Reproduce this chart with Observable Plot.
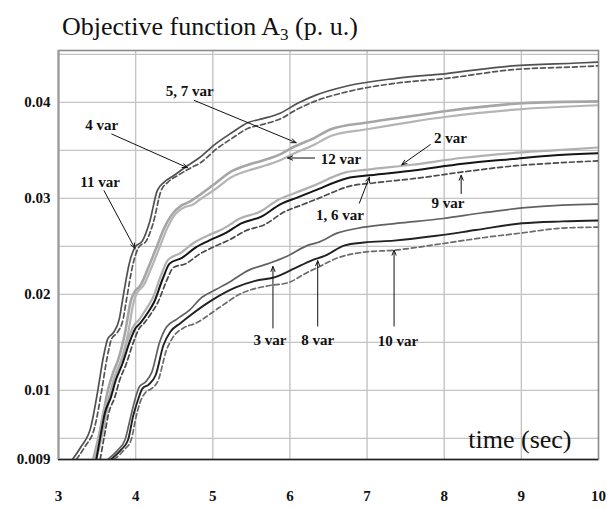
<!DOCTYPE html>
<html>
<head>
<meta charset="utf-8">
<script src="https://cdn.jsdelivr.net/npm/d3@7"></script>
<script src="https://cdn.jsdelivr.net/npm/@observablehq/plot@0.6"></script>
<style>
  html, body { margin: 0; padding: 0; background: #fff; }
  #wrap { width: 607px; height: 509px; position: relative; overflow: hidden; }
  #title { height: 26px; padding-top: 14px; padding-left: 62px; font-family: "Liberation Serif", "Times New Roman", serif; font-size: 26px; line-height: 26px; color: #111; white-space: nowrap; }
  #title .sub { font-size: 17px; position: relative; top: 5px; }
  svg { display: block; }
</style>
</head>
<body>
<div id="wrap">
  <div id="title">Objective function A<span class="sub">3</span> (p. u.)</div>
  <div id="chart"></div>
</div>
<script>
// ---- data ----
const t11 = [3.18,3.29,3.42,3.51,3.58,3.64,3.71,3.79,3.83,3.92,3.99,4.09,4.18,4.28,4.37,4.50,4.67,4.82,5.04,5.24,5.46,5.65,5.88,6.10,6.32,6.74,7.38,8.03,8.88,9.73,10];
const v11 = [0.0028,0.0041,0.0062,0.0100,0.0134,0.0154,0.0160,0.0175,0.0194,0.0233,0.0249,0.0256,0.0275,0.0308,0.0317,0.0324,0.0334,0.0342,0.0357,0.0368,0.0379,0.0383,0.0389,0.0399,0.0407,0.0417,0.0425,0.0430,0.0438,0.0441,0.0442];

const t4 = [3.23,3.34,3.47,3.56,3.63,3.69,3.76,3.84,3.88,3.97,4.04,4.14,4.23,4.33,4.42,4.55,4.72,4.84,5.04,5.24,5.46,5.65,5.88,6.10,6.32,6.74,7.38,8.03,8.88,9.73,10];
const v4 = [0.0028,0.0041,0.0062,0.0100,0.0134,0.0154,0.0160,0.0175,0.0194,0.0233,0.0249,0.0256,0.0275,0.0308,0.0317,0.0324,0.0332,0.0337,0.0351,0.0362,0.0373,0.0377,0.0383,0.0393,0.0401,0.0411,0.0420,0.0425,0.0434,0.0437,0.0438];

const t57 = [3.45,3.55,3.64,3.71,3.77,3.86,3.94,3.99,4.06,4.15,4.28,4.37,4.46,4.60,4.69,4.82,5.04,5.24,5.46,5.63,5.85,6.06,6.32,6.53,7.00,7.60,8.03,9.01,10];
const v57 = [0.0028,0.0062,0.0100,0.0119,0.0131,0.0159,0.0194,0.0203,0.0209,0.0225,0.0251,0.0269,0.0282,0.0293,0.0296,0.0303,0.0316,0.0328,0.0335,0.0339,0.0345,0.0354,0.0363,0.0372,0.0379,0.0386,0.0391,0.0399,0.0401];

const t12 = [3.49,3.59,3.68,3.75,3.81,3.90,3.98,4.03,4.10,4.19,4.32,4.41,4.50,4.64,4.73,4.82,5.04,5.24,5.46,5.63,5.85,6.06,6.32,6.53,7.00,7.60,8.03,9.01,10];
const v12 = [0.0028,0.0062,0.0100,0.0119,0.0131,0.0159,0.0194,0.0203,0.0209,0.0225,0.0251,0.0269,0.0282,0.0291,0.0293,0.0298,0.0310,0.0322,0.0329,0.0333,0.0339,0.0347,0.0356,0.0365,0.0372,0.0380,0.0385,0.0393,0.0397];

const t2 = [3.47,3.53,3.58,3.66,3.72,3.81,3.90,3.98,4.04,4.13,4.22,4.33,4.42,4.58,4.76,4.93,5.15,5.35,5.61,5.86,6.08,6.30,6.72,7.01,7.58,8.22,8.86,9.42,10];
const v2 = [0.0028,0.0055,0.0077,0.0094,0.0112,0.0130,0.0153,0.0168,0.0173,0.0184,0.0196,0.0220,0.0236,0.0243,0.0254,0.0261,0.0269,0.0279,0.0286,0.0299,0.0306,0.0313,0.0327,0.0330,0.0335,0.0342,0.0347,0.0350,0.0353];

const t16 = [3.49,3.55,3.60,3.68,3.74,3.83,3.92,4.00,4.06,4.15,4.24,4.35,4.44,4.60,4.78,4.95,5.17,5.37,5.63,5.88,6.10,6.32,6.74,7.03,7.60,8.24,8.88,9.44,10];
const v16 = [0.0028,0.0055,0.0076,0.0093,0.0110,0.0128,0.0150,0.0165,0.0170,0.0180,0.0192,0.0216,0.0232,0.0238,0.0249,0.0256,0.0264,0.0274,0.0281,0.0294,0.0301,0.0308,0.0321,0.0324,0.0329,0.0336,0.0341,0.0345,0.0347];

const t9 = [3.54,3.60,3.65,3.73,3.79,3.88,3.97,4.05,4.11,4.20,4.29,4.40,4.49,4.65,4.83,5.00,5.22,5.42,5.68,5.93,6.15,6.37,6.79,7.08,7.65,8.29,8.93,9.49,10];
const v9 = [0.0028,0.0055,0.0076,0.0093,0.0110,0.0128,0.0150,0.0165,0.0170,0.0180,0.0192,0.0214,0.0228,0.0232,0.0242,0.0249,0.0257,0.0266,0.0273,0.0286,0.0293,0.0300,0.0313,0.0316,0.0321,0.0328,0.0334,0.0337,0.0339];

const t3 = [3.64,3.77,3.86,3.94,3.99,4.05,4.13,4.21,4.31,4.40,4.53,4.69,4.86,5.04,5.24,5.46,5.72,5.97,6.23,6.36,6.62,6.96,7.38,7.99,8.50,9.01,9.53,10];
const v3 = [0.0028,0.0038,0.0048,0.0074,0.0090,0.0104,0.0109,0.0119,0.0150,0.0166,0.0174,0.0183,0.0197,0.0205,0.0214,0.0225,0.0232,0.0240,0.0251,0.0254,0.0264,0.0270,0.0274,0.0279,0.0285,0.0290,0.0293,0.0294];

const t8 = [3.68,3.81,3.90,3.97,4.03,4.09,4.17,4.26,4.36,4.45,4.58,4.69,4.99,5.29,5.55,5.81,6.06,6.27,6.45,6.71,6.96,7.35,7.90,8.41,9.01,9.53,10];
const v8 = [0.0028,0.0038,0.0048,0.0074,0.0090,0.0102,0.0106,0.0116,0.0147,0.0161,0.0170,0.0177,0.0194,0.0207,0.0214,0.0218,0.0227,0.0235,0.0240,0.0251,0.0254,0.0256,0.0261,0.0267,0.0274,0.0276,0.0277];

const t10 = [3.72,3.85,3.94,4.01,4.06,4.13,4.21,4.29,4.40,4.49,4.62,4.78,5.08,5.37,5.72,5.97,6.23,6.36,6.62,6.96,7.35,7.99,8.50,9.01,9.53,10];
const v10 = [0.0028,0.0038,0.0048,0.0074,0.0088,0.0098,0.0102,0.0110,0.0142,0.0156,0.0165,0.0170,0.0186,0.0201,0.0209,0.0212,0.0223,0.0228,0.0238,0.0244,0.0246,0.0253,0.0259,0.0264,0.0269,0.0270];

// axis ticks / labels
const xTicks = [3,4,5,6,7,8,9,10];
const yTickValues = [0.0028,0.01,0.02,0.03,0.04];
const yTickLabels = ["0.009","0.01","0.02","0.03","0.04"];
const yGrid = [0.005,0.01,0.015,0.02,0.025,0.03,0.035,0.04,0.045];
const xGrid = [4,5,6,7,8,9];

// annotations
const labelText = ["5, 7 var","4 var","11 var","12 var","2 var","1, 6 var","9 var","3 var","8 var","10 var"];
const labelT = [4.70,3.56,3.54,6.66,8.08,6.65,8.05,5.74,6.36,7.40];
const labelV = [0.0412,0.0376,0.0317,0.0341,0.0363,0.0282,0.0295,0.0152,0.0152,0.0151];
const arrowT1 = [4.76,3.69,3.59,6.32,7.82,6.90,8.22,5.78,6.36,7.35];
const arrowV1 = [0.0402,0.0367,0.0308,0.0342,0.0356,0.0295,0.0305,0.0165,0.0167,0.0167];
const arrowT2 = [6.08,4.67,3.99,5.97,7.45,7.03,8.22,5.78,6.36,7.35];
const arrowV2 = [0.0358,0.0332,0.0248,0.0342,0.0335,0.0322,0.0324,0.0229,0.0235,0.0246];

// ---- build tables ----
const seriesList = [
  {key: "5, 7 var", t: t57, v: v57},
  {key: "12 var", t: t12, v: v12},
  {key: "2 var", t: t2, v: v2},
  {key: "11 var", t: t11, v: v11},
  {key: "4 var", t: t4, v: v4},
  {key: "1, 6 var", t: t16, v: v16},
  {key: "9 var", t: t9, v: v9},
  {key: "3 var", t: t3, v: v3},
  {key: "8 var", t: t8, v: v8},
  {key: "10 var", t: t10, v: v10}
];
const styles = {
  "5, 7 var": {stroke: "#a6a6a6", width: 2.6, dash: null},
  "12 var":   {stroke: "#b4b4b4", width: 2.2, dash: null},
  "2 var":    {stroke: "#b0b0b0", width: 2.2, dash: null},
  "11 var":   {stroke: "#505050", width: 1.7, dash: null},
  "4 var":    {stroke: "#555555", width: 1.7, dash: "5,3"},
  "1, 6 var": {stroke: "#151515", width: 2.0, dash: null},
  "9 var":    {stroke: "#4a4a4a", width: 1.7, dash: "5,3"},
  "3 var":    {stroke: "#616161", width: 1.7, dash: null},
  "8 var":    {stroke: "#222222", width: 1.9, dash: null},
  "10 var":   {stroke: "#6a6a6a", width: 1.7, dash: "5,3"}
};
const labelMap = new Map(yTickValues.map((d, i) => [d, yTickLabels[i]]));
const labels = labelText.map((s, i) => ({s, t: labelT[i], v: labelV[i]}));
const arrows = labelText.map((s, i) => ({t1: arrowT1[i], v1: arrowV1[i], t2: arrowT2[i], v2: arrowV2[i]}));

const serif = "Liberation Serif, Times New Roman, serif";
const lineMarks = seriesList.map(s => {
  const rows = s.t.map((t, i) => ({t, v: s.v[i]}));
  const st = styles[s.key];
  return Plot.line(rows, {x: "t", y: "v", stroke: st.stroke, strokeWidth: st.width,
    strokeDasharray: st.dash || undefined, curve: "monotone-x", clip: true});
});

const chart = Plot.plot({
  width: 607,
  height: 469,
  marginTop: 10,
  marginBottom: 50,
  marginLeft: 58,
  marginRight: 9,
  style: {fontFamily: serif, background: "white", color: "#111"},
  x: {domain: [3, 10]},
  y: {domain: [0.0028, 0.0454]},
  marks: [
    Plot.ruleX(xGrid, {stroke: "#c4c4c4", strokeWidth: 1.4}),
    Plot.ruleY(yGrid, {stroke: "#c4c4c4", strokeWidth: 1.4}),
    Plot.frame({stroke: "#8a8a8a", strokeWidth: 1.6}),
    ...lineMarks,
    Plot.ruleY([0.0028], {stroke: "#222", strokeWidth: 1.6}),
    Plot.ruleX([3], {stroke: "#999", strokeWidth: 2}),
    Plot.arrow(arrows, {x1: "t1", y1: "v1", x2: "t2", y2: "v2", stroke: "#111", strokeWidth: 1, headLength: 8, headAngle: 45}),
    Plot.text(labels, {x: "t", y: "v", text: "s", fontFamily: serif, fontWeight: "bold", fontSize: 15, fill: "#111", textAnchor: "middle", lineAnchor: "middle"}),
    Plot.text(["time (sec)"], {frameAnchor: "bottom-right", dx: -27, dy: -12, fontFamily: serif, fontSize: 26, fill: "#111", textAnchor: "end", lineAnchor: "bottom"}),
    Plot.axisX(xTicks, {tickSize: 0, tickPadding: 31, fontWeight: "bold", fontSize: 15, fontFamily: serif, tickFormat: d => String(d)}),
    Plot.axisY(yTickValues, {tickSize: 0, tickPadding: 8, fontWeight: "bold", fontSize: 15, fontFamily: serif, tickFormat: d => labelMap.get(d)})
  ]
});
document.getElementById("chart").appendChild(chart);
</script>
</body>
</html>
